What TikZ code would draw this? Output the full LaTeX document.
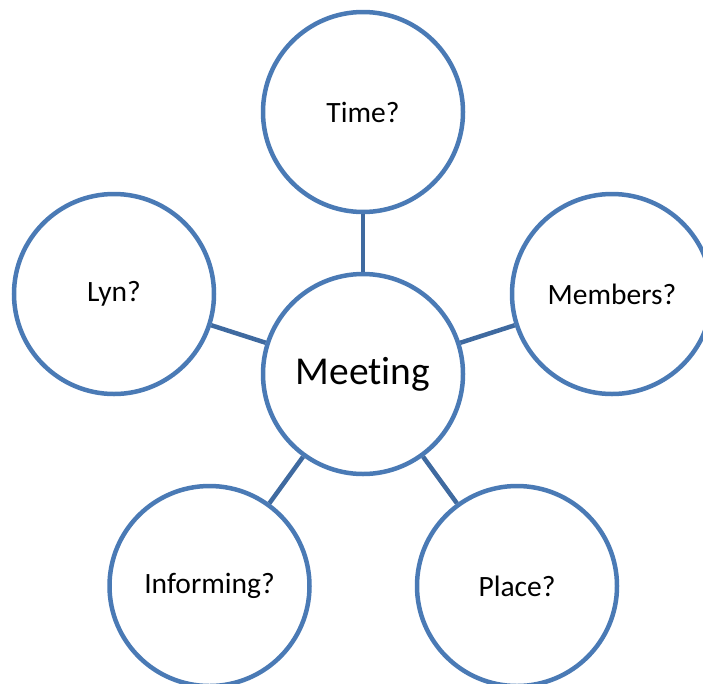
\documentclass[tikz,border=0pt]{standalone}
\usepackage{fontspec}
\setmainfont{Carlito}[RawFeature=-liga]
\definecolor{ringblue}{HTML}{4A7AB5}
\definecolor{linkblue}{HTML}{3F6AA0}
\begin{document}
\begin{tikzpicture}[x=1pt,y=-1pt,
  bubble/.style={circle,draw=ringblue,line width=4.5pt,fill=white,minimum size=200pt,inner sep=0pt,font=\fontsize{29.5}{34}\selectfont},
  link/.style={draw=linkblue,line width=4.5pt}]
\useasboundingbox (0,0) rectangle (703,683);
\clip (0,0) rectangle (703,683);
\node[bubble,font=\fontsize{39.5}{46}\selectfont] (meet) at (363,374) {Meeting};
\node[bubble] (time) at (363,112) {Time?};
\node[bubble] (lyn) at (114,294) {Lyn?};
\node[bubble] (mem) at (612,294) {Members?};
\node[bubble] (inf) at (209.5,586) {Informing?};
\node[bubble] (place) at (517,586) {Place?};
\draw[link] (meet) -- (time);
\draw[link] (meet) -- (lyn);
\draw[link] (meet) -- (mem);
\draw[link] (meet) -- (inf);
\draw[link] (meet) -- (place);
\end{tikzpicture}
\end{document}
